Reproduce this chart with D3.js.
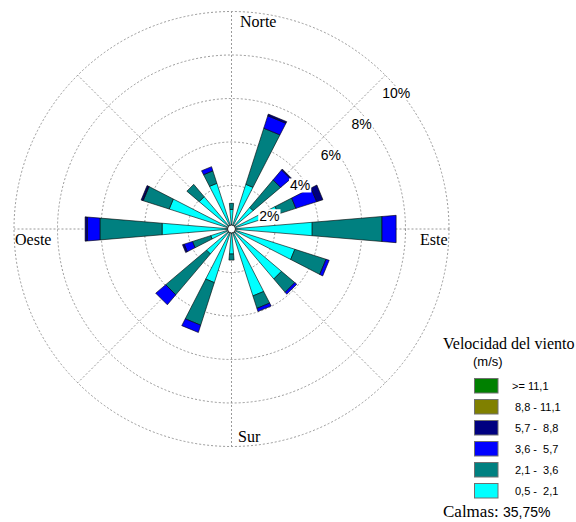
<!DOCTYPE html>
<html>
<head>
<meta charset="utf-8">
<script src="https://cdn.jsdelivr.net/npm/d3@7/dist/d3.min.js"></script>
<style>
  html, body { margin: 0; padding: 0; background: #fff; }
  svg { display: block; }
  .serif { font-family: "Liberation Serif", "Times New Roman", serif; }
  .sans { font-family: "Liberation Sans", Arial, sans-serif; }
</style>
</head>
<body>
<svg id="chart" width="576" height="522"></svg>
<script>
// Wind directions, clockwise from north
const directions = ["N","NNE","NE","ENE","E","ESE","SE","SSE","S","SSW","SW","WSW","W","WNW","NW","NNW"];

// Frequency (%) per direction for each wind speed class (m/s)
const speed_05_21 = [0.90, 2.15, 1.30, 2.25, 3.71, 3.05, 3.00, 3.22, 1.15, 2.58, 1.50, 1.00, 3.19, 3.00, 1.94, 2.20];
const speed_21_36 = [0.28, 2.70, 1.65, 0.85, 3.21, 1.50, 0.80, 0.60, 0.28, 2.05, 2.45, 0.88, 2.86, 1.25, 0.74, 0.60];
const speed_36_57 = [0.00, 0.60, 0.60, 1.00, 0.65, 0.15, 0.12, 0.15, 0.00, 0.35, 0.60, 0.40, 0.58, 0.03, 0.00, 0.20];
const speed_57_88 = [0.00, 0.08, 0.05, 0.30, 0.00, 0.00, 0.00, 0.00, 0.00, 0.00, 0.00, 0.08, 0.10, 0.07, 0.00, 0.00];
const speed_88_111 = [0,0,0,0,0,0,0,0,0,0,0,0,0,0,0,0];
const speed_111 = [0,0,0,0,0,0,0,0,0,0,0,0,0,0,0,0];

const classKeys = ["c1","c2","c3","c4","c5","c6"];
const classColors = ["#00FFFF","#008080","#0000FF","#000080","#808000","#008000"];
const classLabels = ["0,5 -  2,1","2,1 -  3,6","3,6 -  5,7","5,7 -  8,8","8,8 - 11,1",">= 11,1"];

const ringTicks = [2, 4, 6, 8, 10];
const ringLabels = ["2%","4%","6%","8%","10%"];
const calmText = "35,75%";

// Geometry
const cx = 231.5, cy = 229;
const r = d3.scaleLinear().domain([0, 10]).range([0, 217.5]);
const calmRadius = 4;
const halfWidth = 4.75 * Math.PI / 180;

const svg = d3.select("#chart");
const g = svg.append("g").attr("transform", `translate(${cx},${cy})`);

function pt(angleDeg, rad) {
  const a = angleDeg * Math.PI / 180;
  return [rad * Math.sin(a), -rad * Math.cos(a)];
}

// Grid rings
g.append("g").selectAll("circle")
  .data(ringTicks)
  .join("circle")
  .attr("r", d => r(d))
  .attr("fill", "none")
  .attr("stroke", "#808080")
  .attr("stroke-width", 0.8)
  .attr("stroke-dasharray", "2,2");

// Grid spokes every 45 degrees
g.append("g").selectAll("line")
  .data(d3.range(0, 360, 45))
  .join("line")
  .attr("x1", 0).attr("y1", 0)
  .attr("x2", d => pt(d, r(10))[0])
  .attr("y2", d => pt(d, r(10))[1])
  .attr("stroke", "#808080")
  .attr("stroke-width", 0.8)
  .attr("stroke-dasharray", "2,2");

// Stacked data
const table = directions.map((d, i) => ({
  dir: d, angle: i * 22.5,
  c1: speed_05_21[i], c2: speed_21_36[i], c3: speed_36_57[i],
  c4: speed_57_88[i], c5: speed_88_111[i], c6: speed_111[i]
}));
const stacked = d3.stack().keys(classKeys)(table);

// Straight-edged wedge segment between two cumulative frequencies
function wedge(angle, v0, v1) {
  const r0 = Math.max(r(v0), 0), r1 = r(v1);
  const a = angle * Math.PI / 180;
  const p = (rad, off) => [rad * Math.sin(a + off) / Math.cos(off), -rad * Math.cos(a + off) / Math.cos(off)];
  return d3.line()([p(r0, -halfWidth), p(r1, -halfWidth), p(r1, halfWidth), p(r0, halfWidth)]) + "Z";
}

const bars = g.append("g");
stacked.forEach((layer, k) => {
  bars.append("g").selectAll("path")
    .data(layer.filter(d => d[1] - d[0] > 0))
    .join("path")
    .attr("d", d => wedge(d.data.angle, d[0], d[1]))
    .attr("fill", classColors[k])
    .attr("stroke", "#000")
    .attr("stroke-width", 0.6)
    .attr("stroke-linejoin", "miter");
});

// Ring labels on the NE diagonal with white backing
const rl = g.append("g").attr("class", "sans").attr("font-size", 14);
ringTicks.forEach((t, i) => {
  const [x, y] = pt(45, r(t));
  const txt = rl.append("text")
    .attr("x", x - 3).attr("y", y + 23)
    .text(ringLabels[i]);
  const bb = txt.node().getBBox();
  rl.insert("rect", "text:last-child")
    .attr("x", bb.x - 1).attr("y", bb.y + 1)
    .attr("width", bb.width + 2).attr("height", bb.height - 2)
    .attr("fill", "#fff");
});

// Calm circle
g.append("circle").attr("r", calmRadius)
  .attr("fill", "#fff").attr("stroke", "#000").attr("stroke-width", 0.8);

// Cardinal labels
const R = r(10);
const cl = svg.append("g").attr("class", "serif").attr("font-size", 16).attr("fill", "#000");
cl.append("text").attr("x", cx + 8.5).attr("y", cy - R + 15.5).text("Norte");
cl.append("text").attr("x", cx + R - 1.5).attr("y", cy + 16).attr("text-anchor", "end").text("Este");
cl.append("text").attr("x", cx - R + 1).attr("y", cy + 16).text("Oeste");
cl.append("text").attr("x", cx + 6.5).attr("y", cy + R - 4.5).text("Sur");

// Legend
const lg = svg.append("g");
lg.append("text").attr("class", "serif").attr("font-size", 16)
  .attr("x", 443).attr("y", 349).text("Velocidad del viento");
lg.append("text").attr("class", "sans").attr("font-size", 13)
  .attr("x", 473).attr("y", 366).text("(m/s)");

const order = d3.range(classKeys.length).reverse();
const rowY = d3.scaleBand().domain(order).range([378, 504]).paddingInner(0);
lg.append("g").selectAll("rect")
  .data(order)
  .join("rect")
  .attr("x", 474.5).attr("y", d => rowY(d) + 0.5)
  .attr("width", 23.5).attr("height", 14.5)
  .attr("fill", d => classColors[d])
  .attr("stroke", "#707070").attr("stroke-width", 1);
lg.append("g").attr("class", "sans").attr("font-size", 11)
  .selectAll("text")
  .data(order)
  .join("text")
  .attr("x", d => d === 5 ? 512 : 515)
  .attr("y", d => rowY(d) + 12)
  .style("white-space", "pre")
  .text(d => classLabels[d]);

const calm = lg.append("text").attr("x", 443).attr("y", 517);
calm.append("tspan").attr("class", "serif").attr("font-size", 17).text("Calmas: ");
calm.append("tspan").attr("class", "sans").attr("font-size", 14).text(calmText);
</script>
</body>
</html>
